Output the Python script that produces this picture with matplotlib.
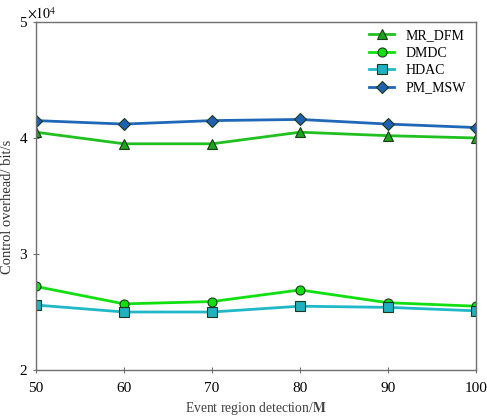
import matplotlib
matplotlib.use("Agg")
import matplotlib.pyplot as plt

plt.rcParams['font.family'] = ['Liberation Serif', 'DejaVu Serif']
plt.rcParams['mathtext.fontset'] = 'stix'

x = [50, 60, 70, 80, 90, 100]
mr_dfm = [4.05, 3.95, 3.95, 4.05, 4.02, 4.00]
dmdc = [2.72, 2.57, 2.59, 2.69, 2.58, 2.55]
hdac = [2.56, 2.50, 2.50, 2.55, 2.54, 2.51]
pm_msw = [4.15, 4.12, 4.15, 4.16, 4.12, 4.09]
labels = ['MR_DFM', 'DMDC', 'HDAC', 'PM_MSW']

fig = plt.figure(figsize=(4.87, 4.18), dpi=100)
ax = fig.add_axes([36/487, 1-370/418, 440/487, 348/418])

styles = [
    (mr_dfm, '#20c020', '^', '#1aa51a'),
    (dmdc, '#10e010', 'o', '#10e010'),
    (hdac, '#20b8c8', 's', '#20b0c0'),
    (pm_msw, '#1f68b8', 'D', '#1f60b0'),
]
for (vals, c, m, fc), lab in zip(styles, labels):
    ax.plot(x, vals, color=c, lw=2, marker=m, markersize=6.5, markerfacecolor=fc,
            markeredgecolor='#1a3a1a', markeredgewidth=0.8, label=lab)

ax.set_xlim(50, 100)
ax.set_ylim(2, 5)
ax.set_xticks(x)
ax.set_yticks([2, 3, 4, 5])
for s in ax.spines.values():
    s.set_color('#707070')
    s.set_linewidth(1.0)
ax.tick_params(direction='inout', length=5, color='#707070', labelsize=11)
ax.tick_params(axis='x', pad=6)
ax.tick_params(axis='y', pad=4)
ax.text(-0.02, 1.0, r'$\times10^4$', transform=ax.transAxes, fontsize=10, va='bottom', ha='left')
ax.set_ylabel('Control overhead/ bit/s', fontsize=10.5, color='#303030', va='center')
ax.yaxis.set_label_coords(-0.064, 0.47)
ax.set_xlabel(r'Event region detection/$\mathbf{M}$', fontsize=9.8, color='#404040', va='center')
ax.xaxis.set_label_coords(0.5, -0.110)

leg = ax.legend(loc='upper right', frameon=False, fontsize=10, handlelength=1.8,
                bbox_to_anchor=(1.005, 1.015), labelspacing=0.32, handletextpad=0.8)
fig.savefig('out.png', dpi=100)
